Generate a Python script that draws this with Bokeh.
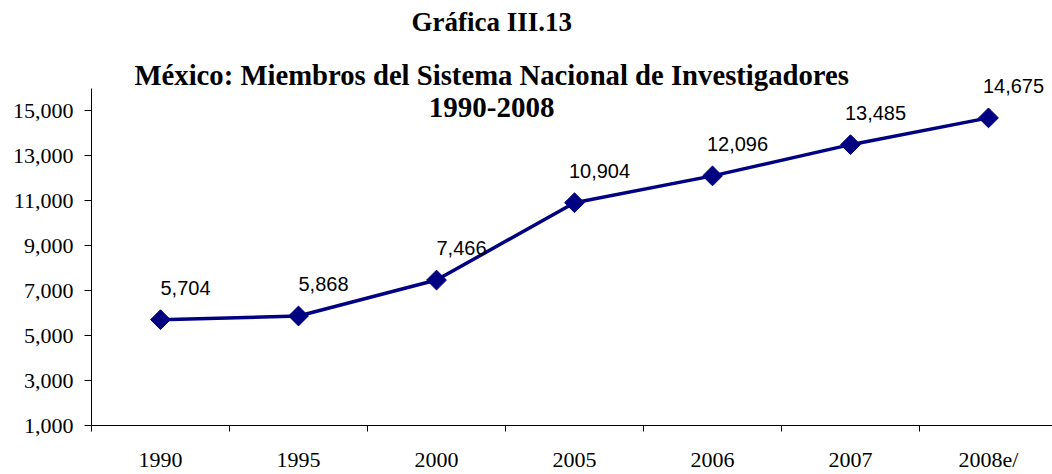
from bokeh.plotting import figure
from bokeh.models import (Range1d, LinearAxis, FixedTicker, NumeralTickFormatter,
                          Label, LabelSet, ColumnDataSource)
from bokeh.core.properties import value
from bokeh.embed import file_html
from bokeh.resources import INLINE
import math

# ---- data ----
years = ["1990", "1995", "2000", "2005", "2006", "2007", "2008e/"]
members = [5704, 5868, 7466, 10904, 12096, 13485, 14675]
y_ticks = [1000, 3000, 5000, 7000, 9000, 11000, 13000, 15000]

title_text = "Gráfica III.13"
subtitle1 = "México: Miembros del Sistema Nacional de Investigadores"
subtitle2 = "1990-2008"

# ---- layout ----
W, H = 1052, 474
left_border = 91
bottom_border = 47
cat_px = 138.0
frame_w = W - left_border
frame_h = H - bottom_border
x_end = frame_w / cat_px
y_min, y_axis_top = 1000, 16000
px_per_unit = 339.0 / (y_axis_top - y_min)
y_end = y_min + frame_h / px_per_unit

def y_at(px_from_top):
    return y_min + (frame_h - px_from_top) / px_per_unit

xs = [i + 0.5 for i in range(len(years))]
labels = [f"{v:,}" for v in members]
src = ColumnDataSource(dict(x=xs, y=members, lbl=labels))

p = figure(width=W, height=H, output_backend="svg", toolbar_location=None,
           title=None, x_axis_location=None, y_axis_location=None,
           x_range=Range1d(0, x_end), y_range=Range1d(y_min, y_end),
           min_border_left=left_border, min_border_top=0,
           min_border_right=0, min_border_bottom=0)
p.outline_line_color = None
p.xgrid.visible = False
p.ygrid.visible = False
p.background_fill_color = "white"
p.border_fill_color = "white"

serif = "Liberation Serif"

yaxis = LinearAxis(ticker=FixedTicker(ticks=y_ticks),
                   formatter=NumeralTickFormatter(format="0,0"),
                   bounds=(y_min, y_axis_top))
yaxis.major_tick_out = 7
yaxis.major_tick_in = 0
yaxis.minor_tick_out = 0
yaxis.minor_tick_in = 0
yaxis.major_label_standoff = 11
yaxis.major_label_text_font = serif
yaxis.major_label_text_font_size = "22px"
yaxis.major_label_text_color = "black"
yaxis.axis_line_color = "black"
yaxis.major_tick_line_color = "black"
p.add_layout(yaxis, "left")

xaxis = LinearAxis(ticker=FixedTicker(ticks=xs, minor_ticks=list(range(len(years) + 1))),
                   major_label_overrides={x: y for x, y in zip(xs, years)})
xaxis.major_tick_out = 0
xaxis.major_tick_in = 0
xaxis.minor_tick_out = 6
xaxis.minor_tick_in = 0
xaxis.minor_tick_line_color = "black"
xaxis.major_label_standoff = 15
xaxis.major_label_text_font = serif
xaxis.major_label_text_font_size = "22px"
xaxis.major_label_text_color = "black"
xaxis.axis_line_color = "black"
p.add_layout(xaxis, "below")

navy = "#000080"
p.line("x", "y", source=src, line_color=navy, line_width=3.5)
p.scatter("x", "y", source=src, marker="square", angle=math.pi / 4, size=14,
          fill_color=navy, line_color=navy)

ls = LabelSet(x="x", y="y", text="lbl", source=src, x_offset=25, y_offset=32,
              text_align="center", text_baseline="middle",
              text_font=value("Liberation Sans"), text_font_size=value("20px"),
              text_color="black")
p.add_layout(ls)

cx = 2.9
p.add_layout(Label(x=cx, y=y_at(22), text=title_text, text_align="center",
                   text_baseline="middle", text_font=serif, text_font_style="bold",
                   text_font_size="27px", text_color="black"))
p.add_layout(Label(x=cx, y=y_at(75), text=subtitle1, text_align="center",
                   text_baseline="middle", text_font=serif, text_font_style="bold",
                   text_font_size="28.7px", text_color="black"))
p.add_layout(Label(x=cx, y=y_at(108), text=subtitle2, text_align="center",
                   text_baseline="middle", text_font=serif, text_font_style="bold",
                   text_font_size="29px", text_color="black"))

open("out.html", "w").write(file_html(p, INLINE))
